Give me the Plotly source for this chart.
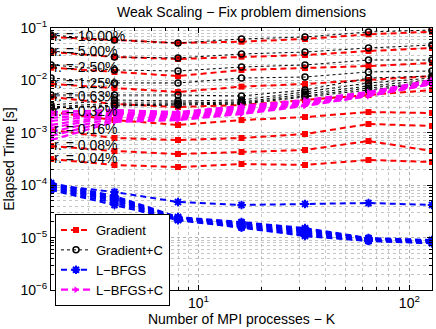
import numpy as np
import plotly.graph_objects as go

K = [2, 4, 8, 16, 32, 64, 128]
r_labels = ["r. = 10.00%", "r. = 5.00%", "r. = 2.50%", "r. = 1.25%", "r. = 0.63%",
            "r. = 0.32%", "r. = 0.16%", "r. = 0.08%", "r. = 0.04%"]
x_ticks = [10, 100]
x_ticktext = ["10<sup>1</sup>", "10<sup>2</sup>"]
y_ticks = [1e-6, 1e-5, 1e-4, 1e-3, 1e-2, 1e-1]
y_ticktext = ["10<sup>−6</sup>", "10<sup>−5</sup>", "10<sup>−4</sup>",
              "10<sup>−3</sup>", "10<sup>−2</sup>", "10<sup>−1</sup>"]

gradient = [
    [0.0673, 0.0590, 0.0517, 0.0548, 0.0617, 0.0758, 0.0850],
    [0.0348, 0.0280, 0.0256, 0.0284, 0.0305, 0.0364, 0.0415],
    [0.0175, 0.0145, 0.0121, 0.0158, 0.0172, 0.0188, 0.0215],
    [0.00854, 0.00716, 0.00601, 0.0076, 0.00854, 0.0102, 0.0121],
    [0.00482, 0.00354, 0.00311, 0.00339, 0.00423, 0.00526, 0.00656],
    [0.00249, 0.00175, 0.00141, 0.00175, 0.00200, 0.00249, 0.00239],
    [0.00113, 0.000796, 0.000729, 0.000796, 0.000949, 0.00147, 0.00135],
    [0.00056, 0.000449, 0.000394, 0.00043, 0.00047, 0.000698, 0.000449],
    [0.000316, 0.000243, 0.000222, 0.000254, 0.000243, 0.000303, 0.000277],
]

gradient_c = [
    [0.0735, 0.0590, 0.0517, 0.0617, 0.0673, 0.0839, 0.0916],
    [0.0364, 0.0280, 0.0268, 0.0319, 0.0348, 0.0415, 0.0474],
    [0.0197, 0.0158, 0.0151, 0.0180, 0.0197, 0.0245, 0.0245],
    [0.0111, 0.00892, 0.00892, 0.0111, 0.0116, 0.0145, 0.0151],
    [0.00526, 0.00526, 0.00526, 0.00504, 0.00656, 0.0111, 0.0121],
    [0.00339, 0.00423, 0.00404, 0.00423, 0.00601, 0.00892, 0.0111],
    [0.00311, 0.00370, 0.00370, 0.00387, 0.00550, 0.00782, 0.0102],
    [0.00297, 0.00339, 0.00354, 0.00370, 0.00504, 0.00716, 0.00932],
    [0.00297, 0.00325, 0.00339, 0.00354, 0.00482, 0.00656, 0.00892],
]

lbfgs = [
    [0.000101, 0.0000742, 0.0000478, 0.0000419, 0.0000438, 0.0000457, 0.0000419],
    [0.000110, 0.0000622, 0.0000247, 0.0000198, 0.0000152, 0.0000098, 0.0000090],
    [0.000105, 0.0000595, 0.0000242, 0.0000190, 0.0000145, 0.0000096, 0.0000088],
    [0.000101, 0.0000570, 0.0000237, 0.0000182, 0.0000140, 0.0000094, 0.0000086],
    [0.0000965, 0.0000545, 0.0000232, 0.0000174, 0.0000134, 0.0000092, 0.0000084],
    [0.0000924, 0.0000522, 0.0000226, 0.0000166, 0.0000128, 0.0000090, 0.0000082],
    [0.0000884, 0.0000499, 0.0000222, 0.0000162, 0.0000122, 0.0000088, 0.0000080],
    [0.0000846, 0.0000457, 0.0000218, 0.0000158, 0.0000112, 0.0000087, 0.0000079],
    [0.0000810, 0.0000419, 0.0000215, 0.0000155, 0.0000107, 0.0000086, 0.0000078],
]

lbfgs_c = [
    [0.00249, 0.00272, 0.00249, 0.00325, 0.00423, 0.00601, 0.0102],
    [0.00219, 0.00249, 0.00239, 0.00311, 0.00404, 0.00575, 0.00975],
    [0.00192, 0.00239, 0.00228, 0.00297, 0.00387, 0.00575, 0.00975],
    [0.00168, 0.00228, 0.00219, 0.00285, 0.00370, 0.00550, 0.00932],
    [0.00141, 0.00219, 0.00209, 0.00272, 0.00354, 0.00550, 0.00932],
    [0.00123, 0.00209, 0.00200, 0.00260, 0.00354, 0.00526, 0.00892],
    [0.00104, 0.00192, 0.00192, 0.00249, 0.00339, 0.00526, 0.00892],
    [0.00087, 0.00175, 0.00183, 0.00239, 0.00339, 0.00504, 0.00854],
    [0.000729, 0.00161, 0.00175, 0.00228, 0.00325, 0.00504, 0.00854],
]

FONT = "Liberation Sans, Arial, Helvetica, sans-serif"
fig = go.Figure()

def add_group(data, name, color, dash, width, symbol, msize, mline=0):
    for i, ys in enumerate(data):
        fig.add_trace(go.Scatter(
            x=K, y=ys, mode="lines+markers", name=name,
            showlegend=(i == 0),
            line=dict(color=color, dash=dash, width=width),
            marker=dict(symbol=symbol, size=msize, color=color,
                        line=dict(color=color, width=mline)),
        ))

add_group(gradient, "Gradient", "#ff0000", "6px,4px", 2, "square", 6)
add_group(gradient_c, "Gradient+C", "#000000", "dot", 1, "circle-open", 6, mline=1.5)
add_group(lbfgs, "L−BFGS", "#0000ff", "6px,4px", 2, "asterisk-open", 7, mline=2)
add_group(lbfgs_c, "L−BFGS+C", "#ff00ff", "7px,4px", 2.2, "triangle-right", 6)

for i, lab in enumerate(r_labels):
    fig.add_annotation(x=np.log10(K[0]), y=np.log10(gradient[i][0]), text=lab,
                       xanchor="left", yanchor="middle", xshift=1, yshift=1,
                       showarrow=False, font=dict(family=FONT, size=14, color="black"))

grid = "rgba(160,160,160,0.6)"
axis_common = dict(
    type="log", ticks="inside", ticklen=5, tickcolor="black",
    showgrid=True, gridcolor=grid, griddash="dot", gridwidth=1,
    showline=True, linecolor="black", linewidth=1, mirror="ticks",
    zeroline=False, tickfont=dict(size=14),
    minor=dict(dtick="D1", ticks="inside", ticklen=3, tickcolor="black",
               showgrid=True, gridcolor=grid, griddash="dot", gridwidth=1),
)

fig.update_layout(
    width=436, height=329,
    margin=dict(l=51, r=4, t=28, b=39),
    paper_bgcolor="white", plot_bgcolor="white",
    font=dict(family=FONT, size=14, color="black"),
    title=dict(text="Weak Scaling − Fix problem dimensions", x=0.5, xref="paper",
               xanchor="center", y=0.963, yanchor="middle", font=dict(size=14)),
    xaxis=dict(axis_common, range=[np.log10(2), np.log10(128)],
               tickmode="array", tickvals=x_ticks, ticktext=x_ticktext,
               title=dict(text="Number of MPI processes − K", standoff=2,
                          font=dict(size=14))),
    yaxis=dict(axis_common, range=[-6, -1],
               tickmode="array", tickvals=y_ticks, ticktext=y_ticktext,
               title=dict(text="Elapsed Time [s]", standoff=2, font=dict(size=14))),
    legend=dict(x=0.0105, y=0.29, xanchor="left", yanchor="top",
                bgcolor="white", bordercolor="black", borderwidth=1,
                itemwidth=30, tracegroupgap=0, font=dict(size=13)),
    showlegend=True,
)

fig.write_html("out.html", config={"displayModeBar": False},
               post_script="document.body.style.margin='0px';")
